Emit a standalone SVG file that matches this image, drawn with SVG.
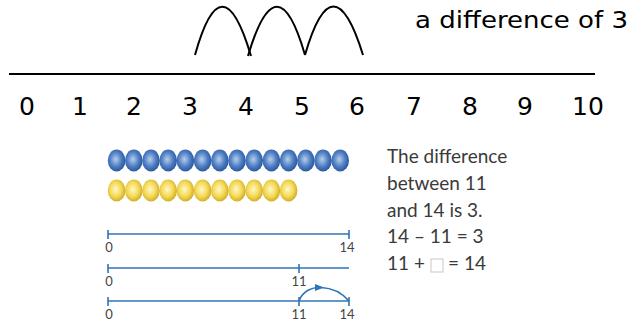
<svg xmlns="http://www.w3.org/2000/svg" width="637" height="325" viewBox="0 0 637 325">
<style>
.big{font-family:"DejaVu Sans","Liberation Sans",sans-serif;font-size:25px;fill:#000;text-anchor:middle}
.cap{font-family:"DejaVu Sans","Liberation Sans",sans-serif;font-size:23px;fill:#000}
.hop{fill:none;stroke:#000;stroke-width:2}
.txt{font-family:Lato,"Open Sans",sans-serif;font-size:19px;fill:#3a3a3a}
.nl{stroke:#2e74b8;stroke-width:1.6;fill:none}
.lab{font-family:Lato,"Open Sans",sans-serif;font-size:13px;fill:#444;text-anchor:middle}
</style>
<defs>
<radialGradient id="gb" cx="0.45" cy="0.45" r="0.6">
<stop offset="0" stop-color="#b9cdec"/><stop offset="0.55" stop-color="#4f7fc4"/><stop offset="1" stop-color="#244f96"/>
</radialGradient>
<radialGradient id="gy" cx="0.45" cy="0.45" r="0.6">
<stop offset="0" stop-color="#fff8c8"/><stop offset="0.55" stop-color="#f5d956"/><stop offset="1" stop-color="#c9a51e"/>
</radialGradient>
</defs>

<g id="top-number-line">
<line x1="9" y1="74" x2="595" y2="74" stroke="#000" stroke-width="2.2"/>
<text class="big" x="27" y="115">0</text>
<text class="big" x="80" y="115">1</text>
<text class="big" x="134" y="115">2</text>
<text class="big" x="190" y="115">3</text>
<text class="big" x="246" y="115">4</text>
<text class="big" x="302" y="115">5</text>
<text class="big" x="357" y="115">6</text>
<text class="big" x="414" y="115">7</text>
<text class="big" x="470" y="115">8</text>
<text class="big" x="525" y="115">9</text>
<text class="big" x="588" y="115">10</text>
</g>

<g id="hops">
<path class="hop" d="M195,55 Q222,-42 251,56"/>
<path class="hop" d="M248,56 Q277,-42 305,55"/>
<path class="hop" d="M305,55 Q333,-42 363,55"/>
</g>

<g id="caption">
<text class="cap" x="415" y="28" textLength="213" lengthAdjust="spacingAndGlyphs">a difference of 3</text>
</g>

<g id="blue-beads" fill="url(#gb)">
<ellipse cx="116.6" cy="160.5" rx="8.8" ry="11"/>
<ellipse cx="133.8" cy="160.5" rx="8.8" ry="11"/>
<ellipse cx="151" cy="160.5" rx="8.8" ry="11"/>
<ellipse cx="168.2" cy="160.5" rx="8.8" ry="11"/>
<ellipse cx="185.4" cy="160.5" rx="8.8" ry="11"/>
<ellipse cx="202.6" cy="160.5" rx="8.8" ry="11"/>
<ellipse cx="219.8" cy="160.5" rx="8.8" ry="11"/>
<ellipse cx="237" cy="160.5" rx="8.8" ry="11"/>
<ellipse cx="254.2" cy="160.5" rx="8.8" ry="11"/>
<ellipse cx="271.4" cy="160.5" rx="8.8" ry="11"/>
<ellipse cx="288.6" cy="160.5" rx="8.8" ry="11"/>
<ellipse cx="305.8" cy="160.5" rx="8.8" ry="11"/>
<ellipse cx="323" cy="160.5" rx="8.8" ry="11"/>
<ellipse cx="340.2" cy="160.5" rx="8.8" ry="11"/>
</g>

<g id="yellow-beads" fill="url(#gy)">
<ellipse cx="116.6" cy="190.5" rx="8.8" ry="11"/>
<ellipse cx="133.8" cy="190.5" rx="8.8" ry="11"/>
<ellipse cx="151" cy="190.5" rx="8.8" ry="11"/>
<ellipse cx="168.2" cy="190.5" rx="8.8" ry="11"/>
<ellipse cx="185.4" cy="190.5" rx="8.8" ry="11"/>
<ellipse cx="202.6" cy="190.5" rx="8.8" ry="11"/>
<ellipse cx="219.8" cy="190.5" rx="8.8" ry="11"/>
<ellipse cx="237" cy="190.5" rx="8.8" ry="11"/>
<ellipse cx="254.2" cy="190.5" rx="8.8" ry="11"/>
<ellipse cx="271.4" cy="190.5" rx="8.8" ry="11"/>
<ellipse cx="288.6" cy="190.5" rx="8.8" ry="11"/>
</g>

<g id="explanation">
<text class="txt" x="387" y="163">The difference</text>
<text class="txt" x="387" y="190">between 11</text>
<text class="txt" x="387" y="217">and 14 is 3.</text>
<text class="txt" x="387" y="243">14 – 11 = 3</text>
<text class="txt" x="387" y="270">11 +</text>
<rect x="431" y="259" width="12" height="13" fill="#fff" stroke="#c8c8c8" stroke-width="1"/>
<text class="txt" x="448" y="270">= 14</text>
</g>

<g id="line-a">
<line class="nl" x1="108" y1="234" x2="349" y2="234"/>
<line class="nl" x1="108" y1="230" x2="108" y2="239"/>
<line class="nl" x1="349" y1="230" x2="349" y2="239"/>
<text class="lab" x="109" y="252">0</text>
<text class="lab" x="347" y="252">14</text>
</g>

<g id="line-b">
<line class="nl" x1="108" y1="268" x2="349" y2="268"/>
<line class="nl" x1="108" y1="264" x2="108" y2="273"/>
<line class="nl" x1="299" y1="264" x2="299" y2="273"/>
<text class="lab" x="109" y="286">0</text>
<text class="lab" x="299" y="286">11</text>
</g>

<g id="line-c">
<line class="nl" x1="108" y1="301" x2="349" y2="301"/>
<line class="nl" x1="108" y1="297" x2="108" y2="306"/>
<line class="nl" x1="299" y1="297" x2="299" y2="306"/>
<line class="nl" x1="349" y1="297" x2="349" y2="306"/>
<text class="lab" x="109" y="319">0</text>
<text class="lab" x="299" y="319">11</text>
<text class="lab" x="347" y="319">14</text>
</g>

<g id="connectors">
<path class="nl" d="M299,301 C303,290 313,287 321,287.5 C333,288 343,294 349,301"/>
<path d="M315,284 L324,287.6 L315,291 z" fill="#2e74b8"/>
</g>
</svg>
